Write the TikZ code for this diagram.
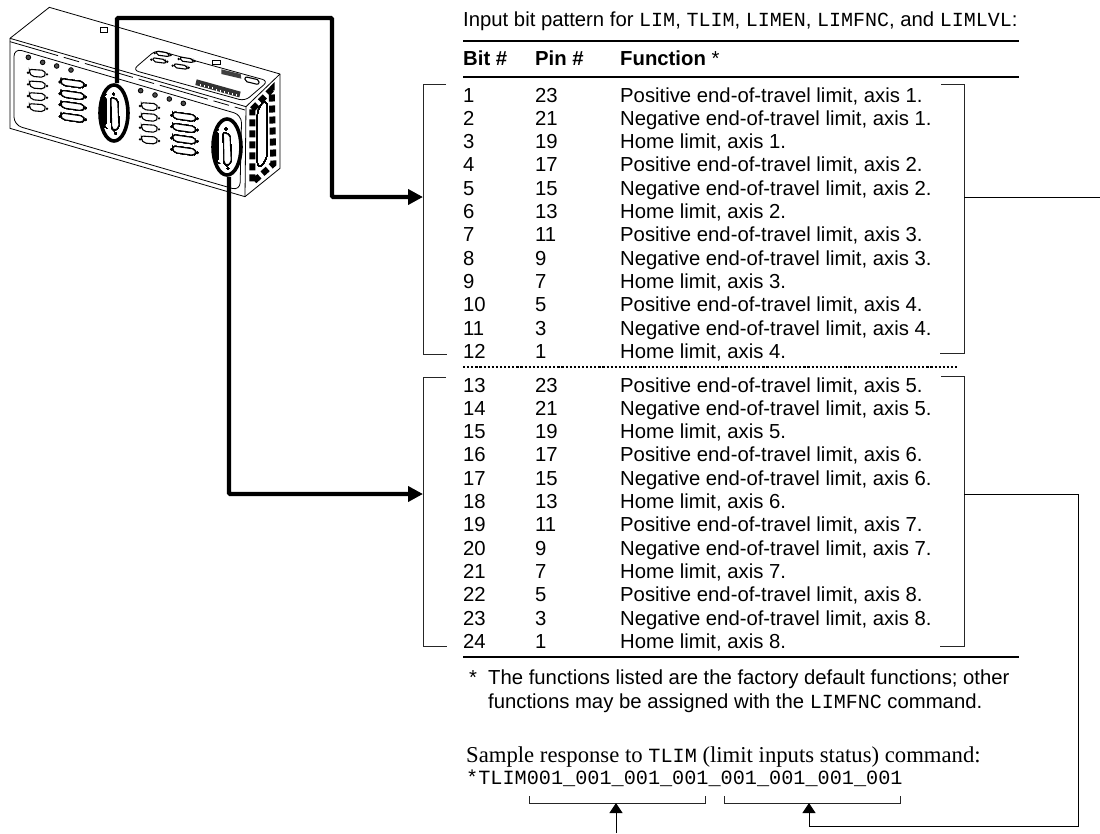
\documentclass[tikz,border=0pt]{standalone}
\usepackage{fontspec}
\setmainfont{Liberation Sans}
\setmonofont{Liberation Mono}
\newfontfamily\sampleserif{Liberation Serif}
\usetikzlibrary{arrows.meta}
\usetikzlibrary{shapes}
\tikzset{
        treetext/.style={anchor=base west,inner sep=0pt,font=\fontsize{20.3}{24}\selectfont},
        % Sample response lines
        sample_text/.style={anchor=base west,inner sep=0pt,font=\fontsize{22.7}{26}\sampleserif},
        sample_code/.style={anchor=base west,inner sep=0pt,font=\fontsize{20.2}{24}\ttfamily},
        % Table rules
        rule_line/.style={line width=1.6pt},
        rule_dots/.style={line width=2.6pt,dash pattern=on 2.2pt off 1.9pt},
        % Brackets and their leads
        bracket_line/.style={line width=0.9pt,black!85},
        lead_thin/.style={line width=1pt,-{Triangle[length=10pt,width=13pt]}},
        lead_thick/.style={line width=4.2pt,-{Triangle[length=15pt,width=15pt]}},
        % Rings on the unit
        ring_node/.style={ellipse,draw=black,line width=3.6pt,inner sep=0pt,minimum width=28pt,minimum height=56pt},
        % Unit artwork
        unit_line/.style={line width=0.8pt},
        db_line/.style={line width=1.1pt,fill=white,rounded corners=2pt}
}
\newcommand{\monotext}[1]{{\fontsize{20}{24}\ttfamily #1}}
% small connector, at 3x
\newcommand{\dbsmall}[2]{
    \draw[db_line] (#1-24,#2-12) -- (#1+20,#2-9) -- (#1+26,#2+3) -- (#1+18,#2+12) -- (#1-16,#2+9) -- (#1-24,#2-2) -- cycle;
    \fill (#1-28,#2-2) circle (4);
    \fill (#1+29,#2+3) circle (4);
}
% wide connector, at 3x
\newcommand{\dbbig}[2]{
    \draw[db_line] (#1-34,#2-14) -- (#1+30,#2-5) -- (#1+36,#2+6) -- (#1+28,#2+14) -- (#1-28,#2+6) -- (#1-36,#2-4) -- cycle;
    \fill (#1-38,#2-4) circle (4);
    \fill (#1+39,#2+6) circle (4);
}
% tall connector, at 3x
\newcommand{\dbtall}[2]{
    \fill[rounded corners=6pt] (#1-42,#2-48) -- (#1-26,#2-56) -- (#1-26,#2+44) -- (#1-38,#2+38) -- cycle;
    \draw[db_line] (#1-12,#2-48) -- (#1+8,#2-40) -- (#1+12,#2+42) -- (#1-2,#2+52) -- (#1-10,#2+44) -- cycle;
    \fill (#1-4,#2-58) circle (4);
    \fill (#1+2,#2+60) circle (4);
}
\begin{document}
\begin{tikzpicture}[x=1pt,y=-1pt]
    \useasboundingbox (0,0) rectangle (1100,833);
    % unit, drawn at 3x
    \begin{scope}[xscale=1/3,yscale=1/3]
        \draw[unit_line,line join=round] (30,115) -- (148,22) -- (840,222) -- (840,505) -- (735,590) -- (30,385) -- cycle;
        \draw[unit_line] (30,115) -- (738,320) -- (735,590);
        \draw[unit_line] (738,320) -- (840,222);
        \draw[unit_line,dash pattern=on 50pt off 6pt on 16pt off 6pt] (30,125) -- (735,330);
        \draw[unit_line,rounded corners=8pt] (42,145) -- (725,345) -- (720,572) -- (42,375) -- cycle;
        % top panel
        \draw[unit_line,rounded corners=6pt] (398,210) -- (468,150) -- (805,243) -- (735,303) -- cycle;
        \draw[unit_line] (300,82) rectangle (322,96);
        \draw[unit_line] (638,180) rectangle (660,194);
        \fill[black!80] (590,238) -- (722,275) -- (718,292) -- (586,255) -- cycle;
        \foreach \x in {0,...,9}
            \fill[white] (600+\x*12,252+\x*3.4) rectangle ++(4,6);
        \foreach \x/\y in {488/162,478/182,560/180,542/200}
        {
            \draw[db_line] (\x-20,\y-9) -- (\x+18,\y-3) -- (\x+20,\y+8) -- (\x-18,\y+3) -- cycle;
            \fill (\x-24,\y-3) circle (4);
            \fill (\x+24,\y+3) circle (4);
        }
        \fill[black!75] (664,208) -- (722,222) -- (724,236) -- (664,222) -- cycle;
        \draw[db_line] (735,230) -- (778,240) -- (776,254) -- (735,244) -- cycle;
        % front panel
        \foreach \x/\y in {85/172,128/187,170/198,213/210,422/272,465/285,508/297,550/310}
            \draw[unit_line,fill=black!70] (\x,\y) circle (7);
        \foreach \x/\y in {112/220,112/255,112/290,112/323,448/320,448/352,448/385,448/420}
            \dbsmall{\x}{\y}
        \foreach \x/\y in {218/250,218/285,218/318,218/353,553/350,553/384,553/418,553/452}
            \dbbig{\x}{\y}
        \dbtall{345}{340}
        \dbtall{682}{445}
        % side vents
        \draw[unit_line,rounded corners=8pt] (772,322) -- (802,295) -- (802,480) -- (772,510) -- cycle;
        \draw[line width=6pt,dash pattern=on 7pt off 4pt] (757,328) -- (815,268) -- (820,492) -- (757,548) -- cycle;
    \end{scope}
    \node[ring_node] (ring_a) at (114,113) {};
    \node[ring_node] (ring_b) at (227,147) {};
    % header
    \node[treetext] (caption) at (463,26) {Input bit pattern for \monotext{LIM}, \monotext{TLIM}, \monotext{LIMEN}, \monotext{LIMFNC}, and \monotext{LIMLVL}:};
    \node[treetext,font=\fontsize{20.3}{24}\bfseries] (head_bit) at (463,65) {Bit \#};
    \node[treetext,font=\fontsize{20.3}{24}\bfseries] (head_pin) at (535,65) {Pin \#};
    \node[treetext] (head_fn) at (620,65) {\textbf{Function} *};
    \draw[rule_line] (463,41) -- (1019,41);
    \draw[rule_line] (463,77) -- (1019,77);
    % first group
    \foreach \bit/\pin/\func [count=\n from 0] in {
        1/23/Positive end-of-travel limit{,} axis 1.,
        2/21/Negative end-of-travel limit{,} axis 1.,
        3/19/Home limit{,} axis 1.,
        4/17/Positive end-of-travel limit{,} axis 2.,
        5/15/Negative end-of-travel limit{,} axis 2.,
        6/13/Home limit{,} axis 2.,
        7/11/Positive end-of-travel limit{,} axis 3.,
        8/9/Negative end-of-travel limit{,} axis 3.,
        9/7/Home limit{,} axis 3.,
        10/5/Positive end-of-travel limit{,} axis 4.,
        11/3/Negative end-of-travel limit{,} axis 4.,
        12/1/Home limit{,} axis 4.}
    {
        \node[treetext] (bit\bit) at (463,102+\n*23.3) {\bit};
        \node[treetext] (pin\bit) at (535,102+\n*23.3) {\pin};
        \node[treetext] (fn\bit) at (620,102+\n*23.3) {\func};
    }
    \draw[rule_dots] (463,367) -- (958,367);
    % second group
    \foreach \bit/\pin/\func [count=\n from 0] in {
        13/23/Positive end-of-travel limit{,} axis 5.,
        14/21/Negative end-of-travel limit{,} axis 5.,
        15/19/Home limit{,} axis 5.,
        16/17/Positive end-of-travel limit{,} axis 6.,
        17/15/Negative end-of-travel limit{,} axis 6.,
        18/13/Home limit{,} axis 6.,
        19/11/Positive end-of-travel limit{,} axis 7.,
        20/9/Negative end-of-travel limit{,} axis 7.,
        21/7/Home limit{,} axis 7.,
        22/5/Positive end-of-travel limit{,} axis 8.,
        23/3/Negative end-of-travel limit{,} axis 8.,
        24/1/Home limit{,} axis 8.}
    {
        \node[treetext] (bit\bit) at (463,392+\n*23.3) {\bit};
        \node[treetext] (pin\bit) at (535,392+\n*23.3) {\pin};
        \node[treetext] (fn\bit) at (620,392+\n*23.3) {\func};
    }
    \draw[rule_line] (463,657) -- (1019,657);
    % footnote and sample
    \node[treetext] (note_star) at (469,684) {*};
    \node[treetext] (note_a) at (488,684) {The functions listed are the factory default functions; other};
    \node[treetext] (note_b) at (488,708) {functions may be assigned with the \monotext{LIMFNC} command.};
    \node[sample_text] (sample_a) at (466,762) {Sample response to {\fontsize{20.2}{24}\ttfamily TLIM} (limit inputs status) command:};
    \node[sample_code] (sample_b) at (466,784) {*TLIM001\_001\_001\_001\_001\_001\_001\_001};
    % brackets
    \draw[bracket_line] (446,84) -- (423,84) -- (423,354) -- (447,354);
    \draw[bracket_line] (446,377) -- (423,377) -- (423,646) -- (447,646);
    \draw[bracket_line] (941,84) -- (964,84) -- (964,353) -- (940,353);
    \draw[bracket_line] (941,376) -- (964,376) -- (964,646) -- (940,646);
    \draw[bracket_line] (529,796) -- (529,803) -- (705,803) -- (705,796);
    \draw[bracket_line] (724,796) -- (724,803) -- (900,803) -- (900,796);
    % leads
    \coordinate (group_a_in) at (423,197);
    \coordinate (group_b_in) at (423,494);
    \coordinate (group_a_out) at (964,197);
    \coordinate (group_b_out) at (964,494);
    \coordinate (page_edge) at (1100,197);
    \coordinate (page_foot) at (616,833);
    \coordinate (word_a) at (616,803);
    \coordinate (word_b) at (809,803);
    \draw[lead_thick,rounded corners=1pt] (ring_a.north -| 117,0) -- (117,18) -- (332,18) -- (332,197) -- (group_a_in);
    \draw[lead_thick,rounded corners=1pt] (ring_b.south -| 229,0) -- (229,494) -- (group_b_in);
    \draw[line width=1pt] (group_a_out) -- (page_edge);
    \draw[lead_thin] (group_b_out) -- (1078,494) -- (1078,826) -- (809,826) -- (word_b);
    \draw[lead_thin] (page_foot) -- (word_a);
\end{tikzpicture}
\end{document}
